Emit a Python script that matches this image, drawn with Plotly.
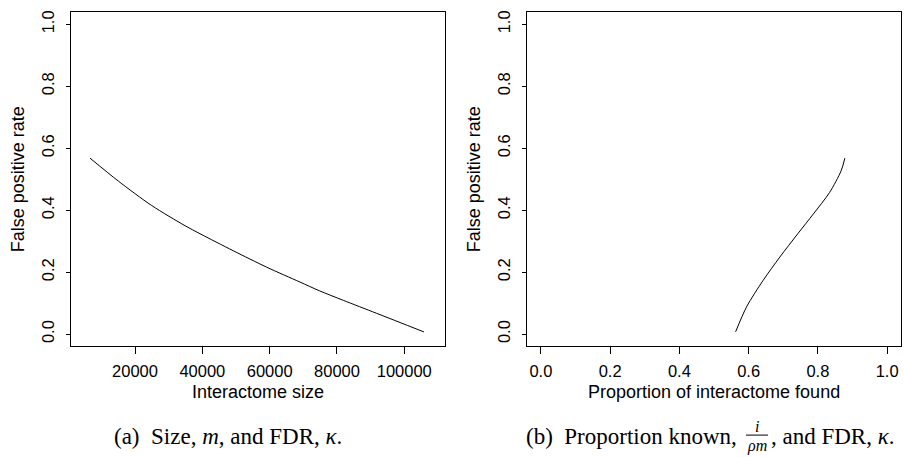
import plotly.graph_objects as go

# ---- data ----
size_m = [6633, 15040, 24960, 34850, 39310, 49200, 59120, 69010, 74750, 81880, 91800, 105850]
fpr_a = [0.568, 0.494, 0.415, 0.350, 0.324, 0.269, 0.216, 0.168, 0.140, 0.109, 0.067, 0.007]

prop_found = [0.5625, 0.594, 0.642, 0.690, 0.742, 0.787, 0.834, 0.867, 0.878]
fpr_b = [0.0074, 0.0878, 0.1736, 0.2486, 0.324, 0.388, 0.4576, 0.527, 0.568]

y_ticks = [0.0, 0.2, 0.4, 0.6, 0.8, 1.0]
xa_ticks = [20000, 40000, 60000, 80000, 100000]
xb_ticks = [0.0, 0.2, 0.4, 0.6, 0.8, 1.0]

W, H = 904, 457

def px(x):
    return x / W

def py(y):
    return 1 - y / H

fig = go.Figure()
fig.add_trace(go.Scatter(x=size_m, y=fpr_a, mode="lines",
                         line=dict(color="black", width=1, shape="spline", smoothing=0.8),
                         xaxis="x", yaxis="y", showlegend=False))
fig.add_trace(go.Scatter(x=prop_found, y=fpr_b, mode="lines",
                         line=dict(color="black", width=1, shape="spline", smoothing=0.8),
                         xaxis="x2", yaxis="y2", showlegend=False))

tickfont = dict(family="Liberation Sans, Arial, sans-serif", size=16.5, color="black")
common = dict(showline=True, mirror=True, linecolor="black", linewidth=1, showgrid=False, zeroline=False,
              ticks="outside", tickcolor="black", tickfont=tickfont)

ydom = [py(346), py(10)]
fig.update_layout(
    width=W, height=H, margin=dict(l=0, r=0, t=0, b=0),
    paper_bgcolor="white", plot_bgcolor="white",
    xaxis=dict(domain=[px(71), px(445)], range=[980, 112100], tickvals=xa_ticks,
               ticktext=[str(v) for v in xa_ticks], ticklen=7, ticklabelstandoff=3, anchor="y", **common),
    yaxis=dict(domain=ydom, range=[-0.04, 1.04], tickvals=y_ticks, ticktext=[f"{v:.1f}" for v in y_ticks],
               ticklen=4, tickangle=-90, ticklabelstandoff=5, anchor="x", **common),
    xaxis2=dict(domain=[px(527), px(901)], range=[-0.04, 1.04], tickvals=xb_ticks,
                ticktext=[f"{v:.1f}" for v in xb_ticks], ticklen=7, ticklabelstandoff=3, anchor="y2", **common),
    yaxis2=dict(domain=ydom, range=[-0.04, 1.04], tickvals=y_ticks, ticktext=[f"{v:.1f}" for v in y_ticks],
                ticklen=4, tickangle=-90, ticklabelstandoff=5, anchor="x2", **common),
)

titlefont = dict(family="Liberation Sans, Arial, sans-serif", size=18, color="black")
capfont = dict(family="Liberation Serif, Times New Roman, serif", size=23, color="black")
fracfont = dict(family="Liberation Serif, Times New Roman, serif", size=16, color="black")

ann = []
# axis titles
ann.append(dict(text="Interactome size", x=px(258), y=py(392), xref="paper", yref="paper",
                showarrow=False, font=titlefont, xanchor="center", yanchor="middle"))
ann.append(dict(text="Proportion of interactome found", x=px(714), y=py(392), xref="paper", yref="paper",
                showarrow=False, font=titlefont, xanchor="center", yanchor="middle"))
ann.append(dict(text="False positive rate", x=px(18), y=py(178), xref="paper", yref="paper", textangle=-90,
                showarrow=False, font=titlefont, xanchor="center", yanchor="middle"))
ann.append(dict(text="False positive rate", x=px(474), y=py(178), xref="paper", yref="paper", textangle=-90,
                showarrow=False, font=titlefont, xanchor="center", yanchor="middle"))
# captions
ann.append(dict(text="(a)  Size, <i>m</i>, and FDR, <i>κ</i>.", x=px(228), y=py(436), xref="paper", yref="paper",
                showarrow=False, font=capfont, xanchor="center", yanchor="middle"))
frac_x = 757
ann.append(dict(text="(b)  Proportion known, ", x=px(frac_x - 12), y=py(436), xref="paper", yref="paper",
                showarrow=False, font=capfont, xanchor="right", yanchor="middle"))
ann.append(dict(text="<i>i</i>", x=px(frac_x), y=py(426), xref="paper", yref="paper",
                showarrow=False, font=fracfont, xanchor="center", yanchor="middle"))
ann.append(dict(text="<i>ρm</i>", x=px(frac_x), y=py(446), xref="paper", yref="paper",
                showarrow=False, font=fracfont, xanchor="center", yanchor="middle"))
ann.append(dict(text=", and FDR, <i>κ</i>.", x=px(frac_x + 12), y=py(436), xref="paper", yref="paper",
                showarrow=False, font=capfont, xanchor="left", yanchor="middle"))
fig.update_layout(annotations=ann,
                  shapes=[dict(type="line", xref="paper", yref="paper", x0=px(frac_x - 11), x1=px(frac_x + 11),
                               y0=py(435), y1=py(435), line=dict(color="black", width=1))])

fig.write_html("out.html")
